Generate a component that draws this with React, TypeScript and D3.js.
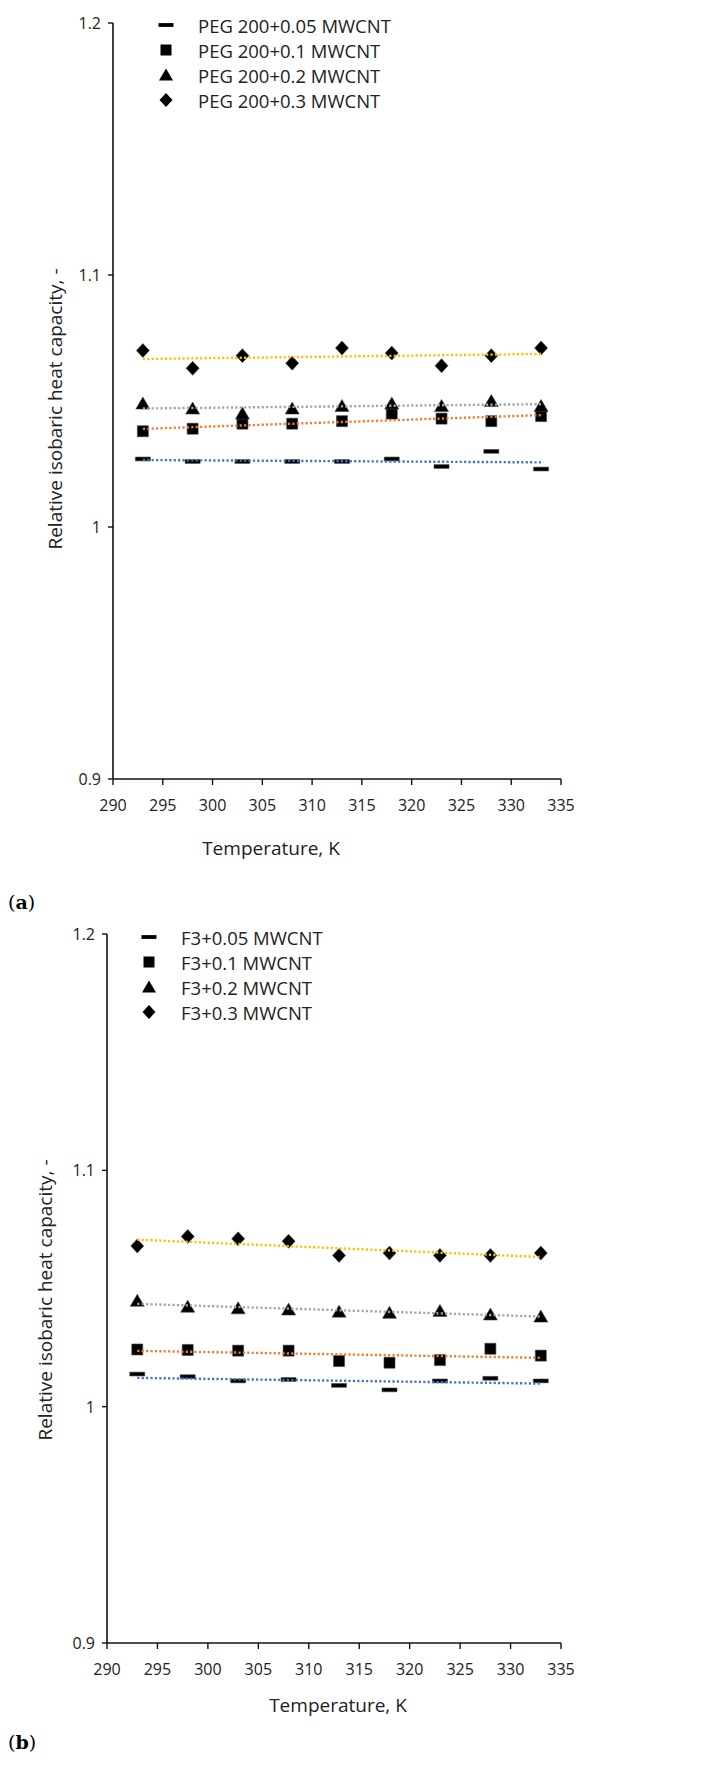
import React from 'react';
import * as d3 from 'd3';

// Sample temperatures, K
const temperatures = [293, 298, 303, 308, 313, 318, 323, 328, 333];
const xTicks = [290, 295, 300, 305, 310, 315, 320, 325, 330, 335];
const yTicks = [0.9, 1, 1.1, 1.2];

// (a) PEG 200 based nanofluids
const pegNames = ['PEG 200+0.05 MWCNT', 'PEG 200+0.1 MWCNT', 'PEG 200+0.2 MWCNT', 'PEG 200+0.3 MWCNT'];
const peg005 = [1.027, 1.026, 1.026, 1.026, 1.026, 1.027, 1.024, 1.030, 1.023];
const peg01 = [1.038, 1.039, 1.041, 1.041, 1.042, 1.045, 1.043, 1.042, 1.044];
const peg02 = [1.049, 1.047, 1.045, 1.047, 1.048, 1.049, 1.048, 1.050, 1.048];
const peg03 = [1.070, 1.063, 1.068, 1.065, 1.071, 1.069, 1.064, 1.068, 1.071];

// (b) F3 based nanofluids
const f3Names = ['F3+0.05 MWCNT', 'F3+0.1 MWCNT', 'F3+0.2 MWCNT', 'F3+0.3 MWCNT'];
const f3005 = [1.0138, 1.0127, 1.0109, 1.0115, 1.0090, 1.0071, 1.0109, 1.0120, 1.0109];
const f301 = [1.0242, 1.0240, 1.0237, 1.0237, 1.0193, 1.0186, 1.0197, 1.0245, 1.0216];
const f302 = [1.0448, 1.0423, 1.0416, 1.0411, 1.0402, 1.0397, 1.0405, 1.0390, 1.0381];
const f303 = [1.068, 1.072, 1.071, 1.070, 1.064, 1.065, 1.064, 1.064, 1.065];

const markerKinds = ['dash', 'square', 'triangle', 'diamond'];
const trendColors = ['#4472C4', '#ED7D31', '#A5A5A5', '#FFC000'];

const FONT = '"Open Sans", "Noto Sans", sans-serif';

// marker outline around (0,0)
function markerPath(kind: string): string {
  switch (kind) {
    case 'dash':
      return 'M-7.5,-1.9H7.5V1.9H-7.5Z';
    case 'square':
      return 'M-5.5,-5.5H5.5V5.5H-5.5Z';
    case 'triangle':
      return 'M0,-6.5L7,5.5H-7Z';
    default:
      return 'M0,-7L6.5,0L0,7L-6.5,0Z';
  }
}

// least-squares line, as an Excel linear trendline
function linearFit(xs: number[], ys: number[]) {
  const mx = d3.mean(xs) as number;
  const my = d3.mean(ys) as number;
  let num = 0;
  let den = 0;
  xs.forEach((xv, i) => {
    num += (xv - mx) * (ys[i] - my);
    den += (xv - mx) * (xv - mx);
  });
  const slope = num / den;
  return (xv: number) => my + slope * (xv - mx);
}

type Frame = { left: number; right: number; top: number; bottom: number };

function Panel(props: {
  names: string[];
  series: number[][];
  frame: Frame;
  legendX: number;
  legendY: number;
  yTitleX: number;
  yTitleY: number;
  xTitleX: number;
  xTitleY: number;
  tag: string;
  tagY: number;
}) {
  const { names, series, frame } = props;
  const x = d3.scaleLinear().domain([290, 335]).range([frame.left, frame.right]);
  const y = d3.scaleLinear().domain([0.9, 1.2]).range([frame.bottom, frame.top]);
  const line = d3.line<number[]>().x((d) => x(d[0])).y((d) => y(d[1]));
  const tMin = d3.min(temperatures) as number;
  const tMax = d3.max(temperatures) as number;

  return (
    <g>
      {/* axes */}
      <line x1={frame.left} x2={frame.left} y1={y(1.2)} y2={y(0.9)} stroke="#111" strokeWidth={1.6} />
      <line x1={frame.left} x2={frame.right} y1={y(0.9)} y2={y(0.9)} stroke="#111" strokeWidth={1.6} />
      {yTicks.map((t) => (
        <g key={'y' + t}>
          <line x1={frame.left - 5} x2={frame.left} y1={y(t)} y2={y(t)} stroke="#111" strokeWidth={1.4} />
          <text x={frame.left - 12} y={y(t)} dominantBaseline="central" textAnchor="end"
            fontFamily={FONT} fontSize={16} fill="#222">{String(t)}</text>
        </g>
      ))}
      {xTicks.map((t) => (
        <g key={'x' + t}>
          <line x1={x(t)} x2={x(t)} y1={y(0.9)} y2={y(0.9) + 6} stroke="#111" strokeWidth={1.4} />
          <text x={x(t)} y={y(0.9) + 26} dominantBaseline="central" textAnchor="middle"
            fontFamily={FONT} fontSize={16} fill="#222">{t}</text>
        </g>
      ))}

      {/* markers */}
      {series.map((vals, si) => (
        <g key={'s' + si}>
          {vals.map((v, i) => (
            <path key={i} d={markerPath(markerKinds[si])}
              transform={`translate(${x(temperatures[i])},${y(v)})`}
              fill="#000" stroke="#444" strokeWidth={0.6} />
          ))}
        </g>
      ))}

      {/* dotted linear trendlines */}
      {series.map((vals, si) => {
        const f = linearFit(temperatures, vals);
        return (
          <path key={'t' + si} d={line([[tMin, f(tMin)], [tMax, f(tMax)]]) || ''}
            fill="none" stroke={trendColors[si]} strokeWidth={2.4} strokeDasharray="2.2 2.2" />
        );
      })}

      {/* legend */}
      {names.map((name, i) => (
        <g key={'l' + i} transform={`translate(0,${props.legendY + i * 25})`}>
          <path d={markerPath(markerKinds[i])} transform={`translate(${props.legendX},0)`} fill="#000" />
          <text x={props.legendX + 32} y={0} dominantBaseline="central" fontFamily={FONT}
            fontSize={18.5} fill="#222">{name}</text>
        </g>
      ))}

      {/* titles */}
      <text transform={`translate(${props.yTitleX},${props.yTitleY}) rotate(-90)`} textAnchor="middle"
        dominantBaseline="central" fontFamily={FONT} fontSize={19} fill="#222">
        Relative isobaric heat capacity, -
      </text>
      <text x={props.xTitleX} y={props.xTitleY} textAnchor="middle" dominantBaseline="central"
        fontFamily={FONT} fontSize={19} fill="#222">Temperature, K</text>
      <text x={8} y={props.tagY} dominantBaseline="central" fontFamily='"DejaVu Serif", serif'
        fontSize={19} fill="#000">
        (<tspan fontWeight="bold">{props.tag}</tspan>)
      </text>
    </g>
  );
}

export default function App() {
  return (
    <svg width={722} height={1773} style={{ position: 'absolute', left: 0, top: 0, background: '#fff' }}>
      <rect width={722} height={1773} fill="#fff" />
      <Panel names={pegNames} series={[peg005, peg01, peg02, peg03]}
        frame={{ left: 113, right: 561, top: 23, bottom: 779 }}
        legendX={166} legendY={25} yTitleX={55} yTitleY={409}
        xTitleX={271} xTitleY={848} tag="a" tagY={902} />
      <Panel names={f3Names} series={[f3005, f301, f302, f303]}
        frame={{ left: 107, right: 561, top: 934, bottom: 1643 }}
        legendX={149} legendY={937} yTitleX={45} yTitleY={1300}
        xTitleX={338} xTitleY={1705} tag="b" tagY={1742} />
    </svg>
  );
}
